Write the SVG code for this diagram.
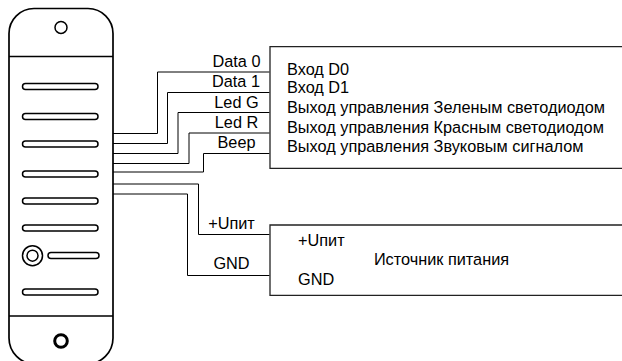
<svg xmlns="http://www.w3.org/2000/svg" width="622" height="361" viewBox="0 0 622 361">
<style>
.l{fill:none;stroke:#000;stroke-width:1}
.h{fill:none;stroke:#000;stroke-width:1.400}
.f{fill:none;stroke:#222;stroke-width:1.300}
.b{fill:#fff;stroke:#000;stroke-width:1.700}
.s{fill:#fff;stroke:#000;stroke-width:1.500}
text{font-family:"Liberation Sans",Arial,sans-serif;font-size:16.300px;fill:#000}
.m{text-anchor:middle}
</style>
<rect width="622" height="361" fill="#fff"/>
<g id="connectors">
<path class="l" d="M113 133.500H157.500V72H269.500"/>
<path class="l" d="M113 143.500H167.500V92.500H269.500"/>
<path class="l" d="M113 153.500H178V112.500H269.500"/>
<path class="l" d="M113 163.500H189V133H269.500"/>
<path class="l" d="M113 172H203.500V153.500H269.500"/>
<path class="l" d="M113 184H198.500V234.500H269.500"/>
<path class="l" d="M113 194H187.500V275.500H269.500"/>
</g>
<g id="reader">
<path class="b" d="M9 33.500A25 25 0 0 1 34 8.500H88A25 25 0 0 1 113 33.500V338A26 26 0 0 1 87 364H35A26 26 0 0 1 9 338Z"/>
<path class="h" d="M9 56.500H113M9 316H113"/>
<circle class="s" cx="61" cy="27.400" r="6"/>
<circle cx="61" cy="341" r="6.300" fill="#fff" stroke="#000" stroke-width="3"/>
<rect class="s" x="22.500" y="83.500" width="75.500" height="6" rx="3"/>
<rect class="s" x="22.500" y="113.500" width="75.500" height="6" rx="3"/>
<rect class="s" x="22.500" y="141" width="75.500" height="6" rx="3"/>
<rect class="s" x="22.500" y="171" width="75.500" height="6" rx="3"/>
<rect class="s" x="22.500" y="198" width="75.500" height="6" rx="3"/>
<rect class="s" x="22.500" y="225" width="75.500" height="6" rx="3"/>
<rect class="s" x="48" y="252.500" width="51" height="6" rx="3"/>
<rect class="s" x="22.500" y="289" width="75.500" height="6" rx="3"/>
<circle class="s" cx="32.500" cy="255.700" r="10"/>
<circle class="s" cx="32.500" cy="255.700" r="5.500"/>
</g>
<g id="wire-labels">
<text class="m" x="236.500" y="67">Data 0</text>
<text class="m" x="236" y="87">Data 1</text>
<text class="m" x="236.500" y="107.500">Led G</text>
<text class="m" x="236.500" y="127.500">Led R</text>
<text class="m" x="236.500" y="148">Beep</text>
<text class="m" x="231.500" y="229">+Uпит</text>
<text class="m" x="231.500" y="269">GND</text>
</g>
<g id="controller">
<path class="f" d="M623 46.700H270V168.300H623"/>
<text x="287" y="74.500">Вход D0</text>
<text x="287" y="93">Вход D1</text>
<text x="287" y="113">Выход управления Зеленым светодиодом</text>
<text x="287" y="132.500">Выход управления Красным светодиодом</text>
<text x="287" y="151.500">Выход управления Звуковым сигналом</text>
</g>
<g id="power">
<path class="f" d="M623 225H270V295.300H623"/>
<text x="298" y="245.500">+Uпит</text>
<text x="441.500" y="264.500" class="m">Источник питания</text>
<text x="298" y="285">GND</text>
</g>
</svg>
